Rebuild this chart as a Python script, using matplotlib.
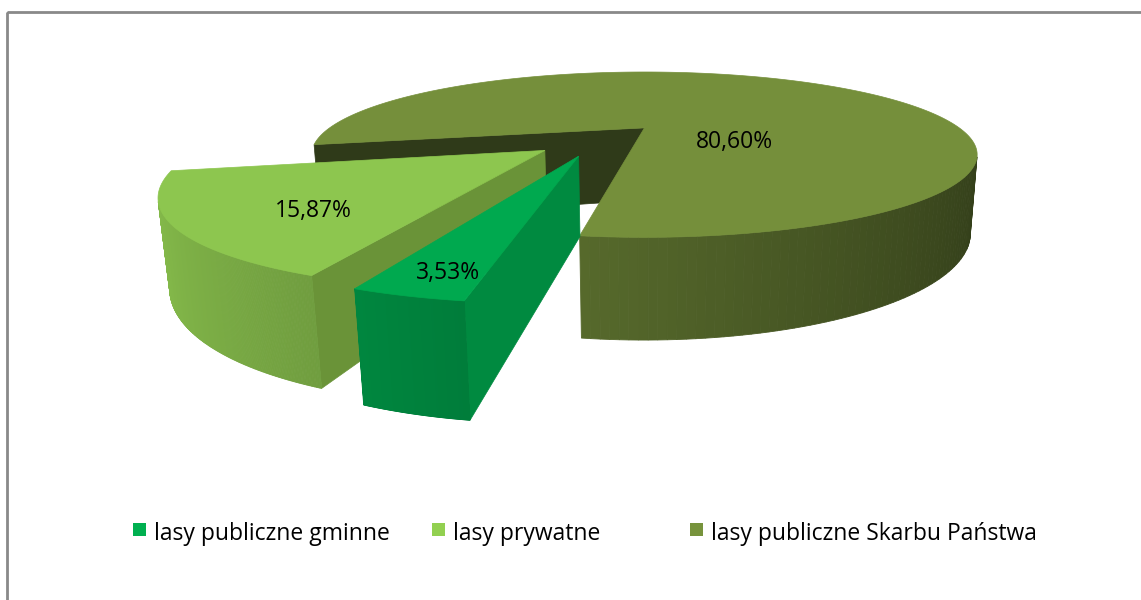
import numpy as np
import matplotlib
matplotlib.use("Agg")
from matplotlib import pyplot as plt
from matplotlib.patches import Polygon, Rectangle

# data
labels = ["lasy publiczne gminne", "lasy prywatne", "lasy publiczne Skarbu Państwa"]
values = [3.53, 15.87, 80.60]
pct_text = ["3,53%", "15,87%", "80,60%"]
top_colors = ["#00A94F", "#8DC64F", "#758F3B"]
cut_colors = ["#008A40", "#6A9338", "#2F3A19"]
legend_colors = ["#00B050", "#92D050", "#77933C"]
# label placement: distance from apex and angle shift from bisector
label_r = [0.88, 0.73, 0.32]
label_shift = [1.5, 8.0, -80.0]
legend_x = [133, 432, 690]

# 3d view (perspective camera looking at TX, TY on the top face)
CX, CY, S = 645.0, 128.0, 315.0
ELEV = np.radians(13.6)
DIST = 3.0
HEIGHT = 0.24
EXPLODE = 0.2
START = 262.0
TX, TY = 0.138, 0.145
se, ce = np.sin(ELEV), np.cos(ELEV)
cam = np.array([TX, TY - DIST * ce, DIST * se])


def project(X, Y, Z):
    X = np.asarray(X, float) - TX; Y = np.asarray(Y, float) - TY
    Z = np.asarray(Z, float)
    depth = DIST + Y * ce - Z * se
    up = Y * se + Z * ce
    return CX + S * X * DIST / depth, CY - S * up * DIST / depth


def shade(color, f):
    c = np.array(matplotlib.colors.to_rgb(color)) * f
    return np.clip(c, 0, 1)


fig = plt.figure(figsize=(11.41, 6.0), dpi=100)
ax = fig.add_axes([0, 0, 1, 1])
ax.set_xlim(0, 1141)
ax.set_ylim(600, 0)
ax.axis("off")

ax.add_patch(Rectangle((7, 12), 1150, 600, fill=False, edgecolor="#898989", lw=2))

fracs = np.array(values) / sum(values)
bounds = START - 360 * np.concatenate([[0], np.cumsum(fracs)])

slices = []
for i in range(len(values)):
    a1, a2 = bounds[i], bounds[i + 1]
    b = np.radians((a1 + a2) / 2)
    ox, oy = EXPLODE * np.cos(b), EXPLODE * np.sin(b)
    slices.append((oy, i, np.radians(a1), np.radians(a2), ox, b))

for oy, i, a1, a2, ox, b in sorted(slices, reverse=True):
    apex = np.array([ox, oy, 0.0])
    to_cam = cam - apex
    # cut faces
    for a, sgn in ((a1, 1), (a2, -1)):
        n = sgn * np.array([-np.sin(a), np.cos(a), 0.0])
        if to_cam @ n > 0:
            ex, ey = ox + np.cos(a), oy + np.sin(a)
            xs, ys = project([ox, ex, ex, ox], [oy, ey, ey, oy], [0, 0, -HEIGHT, -HEIGHT])
            ax.add_patch(Polygon(np.c_[xs, ys], closed=True, fc=cut_colors[i],
                                 ec=cut_colors[i], lw=0.5))
    # outer side
    t = np.linspace(a2, a1, 240)
    for k in range(len(t) - 1):
        tm = (t[k] + t[k + 1]) / 2
        n = np.array([np.cos(tm), np.sin(tm), 0.0])
        p = np.array([ox + np.cos(tm), oy + np.sin(tm), 0.0])
        if (cam - p) @ n <= 0:
            continue
        X = ox + np.cos([t[k], t[k + 1], t[k + 1], t[k]])
        Y = oy + np.sin([t[k], t[k + 1], t[k + 1], t[k]])
        xs, ys = project(X, Y, [0, 0, -HEIGHT, -HEIGHT])
        c = shade(top_colors[i], 0.70 - 0.27 * n[0])
        ax.add_patch(Polygon(np.c_[xs, ys], closed=True, fc=c, ec=c, lw=0.6))
    # top
    t = np.linspace(a2, a1, 300)
    X = np.concatenate([[ox], ox + np.cos(t)])
    Y = np.concatenate([[oy], oy + np.sin(t)])
    xs, ys = project(X, Y, np.zeros_like(X))
    ax.add_patch(Polygon(np.c_[xs, ys], closed=True, fc=top_colors[i],
                         ec=top_colors[i], lw=0.5))
    la = b + np.radians(label_shift[i])
    lx, ly = project(ox + label_r[i] * np.cos(la), oy + label_r[i] * np.sin(la), 0)
    ax.text(lx, ly, pct_text[i], ha="center", va="center", fontsize=16.5,
            family="Open Sans", color="black")

# legend
for x, c, lab in zip(legend_x, legend_colors, labels):
    ax.add_patch(Rectangle((x, 523), 13, 13, fc=c, ec="none"))
    ax.text(x + 21, 534, lab, ha="left", va="center", fontsize=16.5,
            family="Open Sans", color="black")

fig.savefig("out.png", dpi=100)
